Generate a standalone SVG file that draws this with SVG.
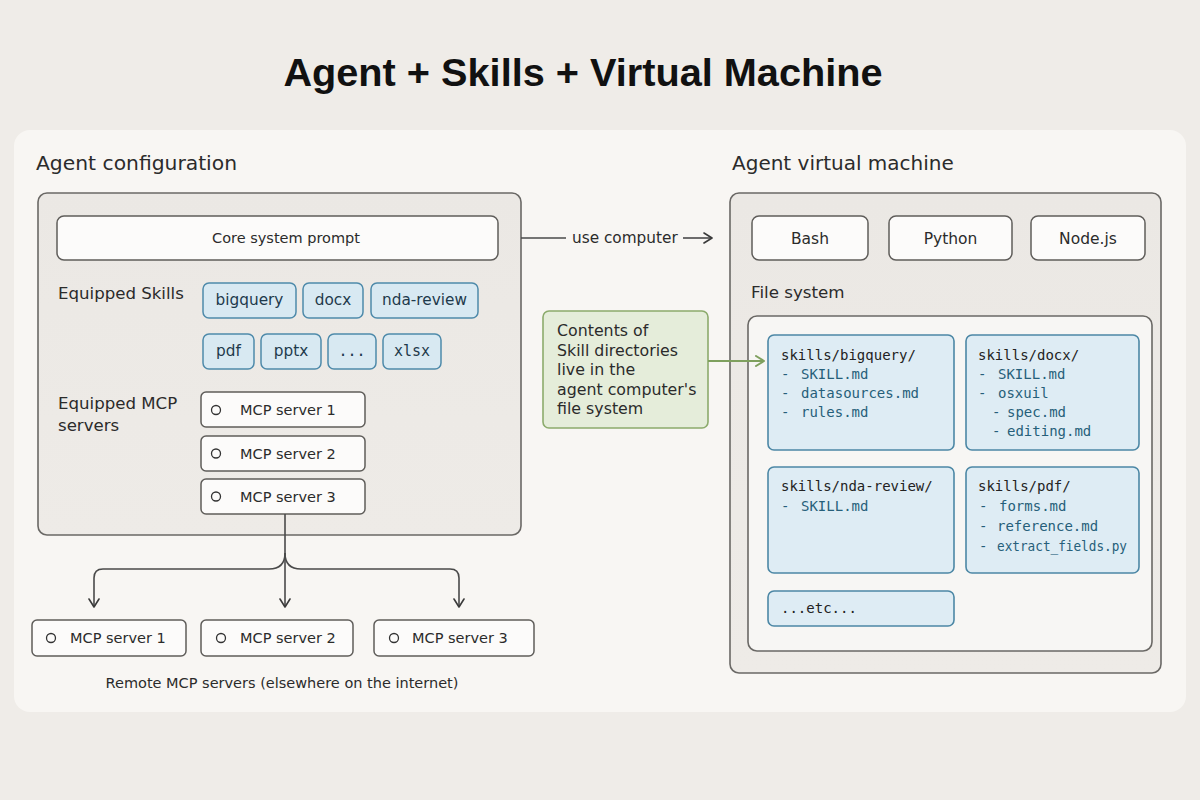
<svg xmlns="http://www.w3.org/2000/svg" width="1200" height="800" viewBox="0 0 1200 800">
<defs>
<marker id="arr" viewBox="0 0 12 12" refX="10" refY="6" markerWidth="12" markerHeight="12" markerUnits="userSpaceOnUse" orient="auto">
<path d="M2,1 L10,6 L2,11" fill="none" stroke="#3a3a3a" stroke-width="1.6" stroke-linecap="round" stroke-linejoin="round"/>
</marker>
<marker id="arrg" viewBox="0 0 12 12" refX="10" refY="6" markerWidth="12" markerHeight="12" markerUnits="userSpaceOnUse" orient="auto">
<path d="M2,1 L10,6 L2,11" fill="none" stroke="#7fa05e" stroke-width="2" stroke-linecap="round" stroke-linejoin="round"/>
</marker>
<linearGradient id="boxg" x1="0" y1="0" x2="0" y2="1">
<stop offset="0" stop-color="#ebe8e4"/>
<stop offset="1" stop-color="#eeebe7"/>
</linearGradient>
</defs>
<style>
.sans{font-family:"DejaVu Sans","Liberation Sans",Arial,sans-serif;fill:#2b2b2b}
.mono{font-family:"DejaVu Sans Mono","Liberation Mono",monospace;font-size:14px}
.outer{fill:url(#boxg);stroke:#6a6865;stroke-width:1.6}
.white{fill:#fcfbfa;stroke:#5f5d5a;stroke-width:1.5}
.chip{fill:#d8e9f2;stroke:#4e8aaa;stroke-width:1.5}
.chipt{font-family:"DejaVu Sans","Liberation Sans",Arial,sans-serif;font-size:15.3px;fill:#1e3a4c;text-anchor:middle}
.chipm{font-family:"DejaVu Sans Mono","Liberation Mono",monospace;font-size:15px;fill:#1e3a4c;text-anchor:middle}
.dir{fill:#deecf4;stroke:#4c87a5;stroke-width:1.6}
.head{fill:#222}
.item{fill:#265f7a}
.lbl{font-size:16.6px}
.srv{font-size:14.5px}
.note{font-size:15.8px}
.dot{fill:none;stroke:#333;stroke-width:1.3}
.conn{fill:none;stroke:#4a4a4a;stroke-width:1.6}
</style>
<rect x="0" y="0" width="1200" height="800" fill="#efece8"/>
<rect x="14" y="130" width="1172" height="582" rx="16" fill="#f8f6f3"/>

<text x="583" y="86" text-anchor="middle" font-family="'Liberation Sans',Arial,sans-serif" font-size="39.7" font-weight="bold" fill="#111">Agent + Skills + Virtual Machine</text>

<g id="agent-config">
<text class="sans" x="36" y="170" font-size="20.3">Agent configuration</text>
<rect class="outer" x="38" y="193" width="483" height="342" rx="9"/>
</g>

<g id="core-prompt">
<rect class="white" x="57" y="216" width="441" height="44" rx="7"/>
<text class="sans" x="286" y="243" font-size="14.5" text-anchor="middle">Core system prompt</text>
</g>

<g id="equipped-skills">
<text class="sans lbl" x="58" y="299">Equipped Skills</text>
<rect class="chip" x="203" y="283" width="93" height="35" rx="6"/>
<text class="chipt" x="249.5" y="305">bigquery</text>
<rect class="chip" x="303" y="283" width="60" height="35" rx="6"/>
<text class="chipt" x="333" y="305">docx</text>
<rect class="chip" x="371" y="283" width="107" height="35" rx="6"/>
<text class="chipt" x="424.5" y="305">nda-review</text>
<rect class="chip" x="203" y="334" width="51" height="35" rx="6"/>
<text class="chipt" x="228.5" y="356">pdf</text>
<rect class="chip" x="261" y="334" width="60" height="35" rx="6"/>
<text class="chipt" x="291" y="356">pptx</text>
<rect class="chip" x="328" y="334" width="48" height="35" rx="6"/>
<text class="chipm" x="352" y="356">...</text>
<rect class="chip" x="383" y="334" width="58" height="35" rx="6"/>
<text class="chipm" x="412" y="356">xlsx</text>
</g>

<g id="equipped-mcp">
<text class="sans lbl" x="58" y="409">Equipped MCP</text>
<text class="sans lbl" x="58" y="431">servers</text>
</g>
<g id="mcp-inner-1">
<rect class="white" x="201" y="392" width="164" height="35" rx="5"/>
<circle class="dot" cx="216" cy="410" r="4.5"/>
<text class="sans srv" x="240" y="415">MCP server 1</text>
</g>
<g id="mcp-inner-2">
<rect class="white" x="201" y="436" width="164" height="35" rx="5"/>
<circle class="dot" cx="216" cy="453.5" r="4.5"/>
<text class="sans srv" x="240" y="458.5">MCP server 2</text>
</g>
<g id="mcp-inner-3">
<rect class="white" x="201" y="479" width="164" height="35" rx="5"/>
<circle class="dot" cx="216" cy="496.5" r="4.5"/>
<text class="sans srv" x="240" y="501.5">MCP server 3</text>
</g>

<g id="remote-mcp-1">
<rect class="white" x="32" y="620" width="154" height="36" rx="5"/>
<circle class="dot" cx="51" cy="638" r="4.5"/>
<text class="sans srv" x="70" y="643">MCP server 1</text>
</g>
<g id="remote-mcp-2">
<rect class="white" x="201" y="620" width="152" height="36" rx="5"/>
<circle class="dot" cx="221" cy="638" r="4.5"/>
<text class="sans srv" x="240" y="643">MCP server 2</text>
</g>
<g id="remote-mcp-3">
<rect class="white" x="374" y="620" width="160" height="36" rx="5"/>
<circle class="dot" cx="394" cy="638" r="4.5"/>
<text class="sans srv" x="412" y="643">MCP server 3</text>
</g>
<text class="sans" x="282" y="688" font-size="14.5" text-anchor="middle">Remote MCP servers (elsewhere on the internet)</text>

<g id="agent-vm">
<text class="sans" x="732" y="170" font-size="20">Agent virtual machine</text>
<rect class="outer" x="730" y="193" width="431" height="480" rx="9"/>
</g>
<g id="bash">
<rect class="white" x="752" y="216" width="116" height="44" rx="7"/>
<text class="sans" x="810" y="243.5" font-size="15.5" text-anchor="middle">Bash</text>
</g>
<g id="python">
<rect class="white" x="889" y="216" width="123" height="44" rx="7"/>
<text class="sans" x="950.5" y="243.5" font-size="15.5" text-anchor="middle">Python</text>
</g>
<g id="nodejs">
<rect class="white" x="1031" y="216" width="114" height="44" rx="7"/>
<text class="sans" x="1088" y="243.5" font-size="15.5" text-anchor="middle">Node.js</text>
</g>

<g id="file-system">
<text class="sans" x="751" y="298" font-size="16.7">File system</text>
<rect x="748" y="316" width="404" height="335" rx="9" fill="#f7f6f4" stroke="#6a6865" stroke-width="1.6"/>
</g>

<g id="dir-bigquery">
<rect class="dir" x="768" y="335" width="186" height="115" rx="6"/>
<text class="mono head" x="781" y="360">skills/bigquery/</text>
<text class="mono item" x="781" y="379">-</text><text class="mono item" x="801" y="379">SKILL.md</text>
<text class="mono item" x="781" y="398">-</text><text class="mono item" x="801" y="398">datasources.md</text>
<text class="mono item" x="781" y="417">-</text><text class="mono item" x="801" y="417">rules.md</text>
</g>
<g id="dir-docx">
<rect class="dir" x="966" y="335" width="173" height="115" rx="6"/>
<text class="mono head" x="978" y="360">skills/docx/</text>
<text class="mono item" x="978" y="379">-</text><text class="mono item" x="998" y="379">SKILL.md</text>
<text class="mono item" x="978" y="398">-</text><text class="mono item" x="998" y="398">osxuil</text>
<text class="mono item" x="992" y="417">-</text><text class="mono item" x="1007" y="417">spec.md</text>
<text class="mono item" x="992" y="436">-</text><text class="mono item" x="1007" y="436">editing.md</text>
</g>
<g id="dir-nda">
<rect class="dir" x="768" y="467" width="186" height="106" rx="6"/>
<text class="mono head" x="781" y="491">skills/nda-review/</text>
<text class="mono item" x="781" y="511">-</text><text class="mono item" x="801" y="511">SKILL.md</text>
</g>
<g id="dir-pdf">
<rect class="dir" x="966" y="467" width="173" height="106" rx="6"/>
<text class="mono head" x="978" y="491">skills/pdf/</text>
<text class="mono item" x="979" y="511">-</text><text class="mono item" x="999" y="511">forms.md</text>
<text class="mono item" x="979" y="531">-</text><text class="mono item" x="997" y="531">reference.md</text>
<text class="mono item" x="979" y="551">-</text><text class="mono item" x="997" y="551" textLength="130" lengthAdjust="spacingAndGlyphs">extract_fields.py</text>
</g>
<g id="dir-etc">
<rect class="dir" x="768" y="591" width="186" height="35" rx="6"/>
<text class="mono head" x="781" y="613">...etc...</text>
</g>

<g id="note">
<rect x="543" y="311" width="165" height="117" rx="6" fill="#e5edda" stroke="#8cab6c" stroke-width="1.6"/>
<text class="sans note" x="557" y="336">Contents of</text>
<text class="sans note" x="557" y="356">Skill directories</text>
<text class="sans note" x="557" y="375">live in the</text>
<text class="sans note" x="557" y="395">agent computer's</text>
<text class="sans note" x="557" y="414">file system</text>
</g>

<g id="connectors">
<line class="conn" x1="521" y1="238" x2="566" y2="238"/>
<text class="sans" x="572" y="243" font-size="15.3">use computer</text>
<line class="conn" x1="683" y1="238" x2="712" y2="238" marker-end="url(#arr)"/>
<line x1="708" y1="361" x2="764" y2="361" stroke="#7fa05e" stroke-width="2" marker-end="url(#arrg)"/>
<path class="conn" d="M285,514 V607" marker-end="url(#arr)"/>
<path class="conn" d="M285,553 Q285,569 269,569 H103 Q94,569 94,578 V607" marker-end="url(#arr)"/>
<path class="conn" d="M285,553 Q285,569 301,569 H450 Q459,569 459,578 V607" marker-end="url(#arr)"/>
</g>
</svg>
